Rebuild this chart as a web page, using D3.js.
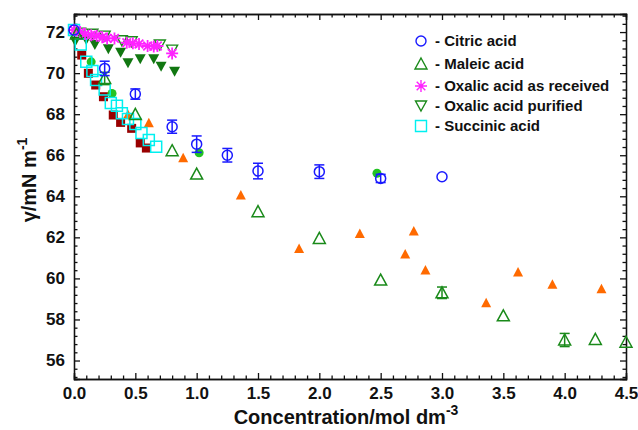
<!DOCTYPE html>
<html>
<head>
<meta charset="utf-8">
<script src="https://cdn.jsdelivr.net/npm/d3@7"></script>
<style>
  body { margin: 0; background: #fff; }
  svg { font-family: "Liberation Sans", Arial, sans-serif; }
  .axis text { font-size: 17px; font-weight: bold; fill: #111; }
  .axis path, .axis line { stroke: #111; stroke-width: 1.3; }
</style>
</head>
<body>
<svg id="chart"></svg>
<script>
// data
var citricX = [0, 0.25, 0.5, 0.8, 1.0, 1.25, 1.5, 2.0, 2.5, 3.0];
var citricY = [72.1, 70.23, 68.98, 67.39, 66.54, 66.0, 65.23, 65.2, 64.87, 64.95];
var citricErr = [0, 0.35, 0.25, 0.32, 0.4, 0.33, 0.38, 0.33, 0.2, 0];

var maleicX = [0.02, 0.25, 0.5, 0.8, 1.0, 1.5, 2.0, 2.5, 3.0, 3.5, 4.0, 4.25, 4.5];
var maleicY = [71.9, 69.74, 67.99, 66.22, 65.08, 63.25, 61.95, 59.92, 59.3, 58.18, 57.0, 57.03, 56.89];
var maleicErr = [0, 0.3, 0, 0, 0, 0, 0, 0, 0.28, 0, 0.32, 0, 0];

var oxRecX = [0.0, 0.05, 0.09, 0.14, 0.185, 0.23, 0.27, 0.33, 0.43, 0.48, 0.53, 0.6, 0.65, 0.68, 0.8];
var oxRecY = [72.1, 72.0, 71.9, 71.85, 71.82, 71.75, 71.69, 71.69, 71.48, 71.45, 71.42, 71.32, 71.3, 71.32, 70.96];

var oxPurX = [0.05, 0.15, 0.25, 0.39, 0.47, 0.7, 0.8];
var oxPurY = [71.95, 71.89, 71.8, 71.58, 71.53, 71.37, 71.12];

var oxFillX = [0.01, 0.1, 0.17, 0.28, 0.38, 0.44, 0.54, 0.65, 0.71, 0.82];
var oxFillY = [71.53, 71.61, 71.37, 71.16, 70.99, 70.48, 70.67, 70.67, 70.31, 70.07];

var succX = [0, 0.055, 0.1, 0.15, 0.18, 0.25, 0.3, 0.35, 0.39, 0.44, 0.5, 0.55, 0.61, 0.67];
var succY = [72.1, 71.4, 70.55, 70.1, 69.66, 69.2, 68.54, 68.41, 68.05, 67.76, 67.52, 67.08, 66.74, 66.41];

var redX = [0.063, 0.117, 0.177, 0.24, 0.32, 0.38, 0.47, 0.54, 0.59];
var redY = [70.88, 69.99, 69.42, 68.85, 67.96, 67.6, 67.31, 66.6, 66.35];

var dotX = [0.14, 0.31, 1.02, 2.47];
var dotY = [70.55, 69.01, 66.12, 65.12];

var orangeX = [0.44, 0.61, 0.89, 1.36, 1.835, 2.33, 2.7, 2.77, 2.865, 3.36, 3.62, 3.9, 4.3];
var orangeY = [67.99, 67.58, 65.88, 64.06, 61.46, 62.19, 61.19, 62.31, 60.41, 58.81, 60.31, 59.71, 59.5];

var xTicks = [0, 0.5, 1, 1.5, 2, 2.5, 3, 3.5, 4, 4.5];
var yTicks = [56, 58, 60, 62, 64, 66, 68, 70, 72];

var legendNames = ['- Citric acid', '- Maleic acid', '- Oxalic acid as received', '- Oxalic acid purified', '- Succinic acid'];

var svgWidth = 638;
var svgHeight = 430;
var plotLeft = 74, plotRight = 626, plotTop = 14, plotBottom = 379;

var svg = d3.select('#chart')
    .attr('width', svgWidth)
    .attr('height', svgHeight);

var xScale = d3.scaleLinear().domain([0, 4.5]).range([plotLeft, plotRight]);
var yScale = d3.scaleLinear().domain([55.1, 72.88]).range([plotBottom, plotTop]);

// minor tick positions
var xMinor = d3.range(0, 4.501, 0.1).filter(function (v) { return Math.abs(v * 2 - Math.round(v * 2)) > 0.01; });
var yMinor = d3.range(55.2, 72.85, 0.4).filter(function (v) { return Math.abs(v / 2 - Math.round(v / 2)) > 0.01; });

function addAxis(axis, tx, ty) {
    svg.append('g').attr('class', 'axis')
        .attr('transform', 'translate(' + tx + ',' + ty + ')')
        .call(axis);
}

addAxis(d3.axisBottom(xScale).tickValues(xTicks).tickFormat(d3.format('.1f')).tickSize(-6).tickPadding(8), 0, plotBottom);
addAxis(d3.axisBottom(xScale).tickValues(xMinor).tickFormat('').tickSize(-3.5), 0, plotBottom);
addAxis(d3.axisTop(xScale).tickValues(xTicks).tickFormat('').tickSize(-6), 0, plotTop);
addAxis(d3.axisTop(xScale).tickValues(xMinor).tickFormat('').tickSize(-3.5), 0, plotTop);
addAxis(d3.axisLeft(yScale).tickValues(yTicks).tickFormat(d3.format('d')).tickSize(-6).tickPadding(9), plotLeft, 0);
addAxis(d3.axisLeft(yScale).tickValues(yMinor).tickFormat('').tickSize(-3.5), plotLeft, 0);
addAxis(d3.axisRight(yScale).tickValues(yTicks).tickFormat('').tickSize(-6), plotRight, 0);
addAxis(d3.axisRight(yScale).tickValues(yMinor).tickFormat('').tickSize(-3.5), plotRight, 0);

svg.selectAll('.axis path').attr('stroke-width', 1.6);

// marker shapes
function shape(kind) {
    if (kind === 'circle') return 'M5,0A5,5 0 1,1 -5,0A5,5 0 1,1 5,0Z';
    if (kind === 'dot') return 'M4.5,0A4.5,4.5 0 1,1 -4.5,0A4.5,4.5 0 1,1 4.5,0Z';
    if (kind === 'tri') return 'M0,-6L6,5L-6,5Z';
    if (kind === 'tri2') return 'M0,-5L5,4.5L-5,4.5Z';
    if (kind === 'itri') return 'M0,5L5.5,-5L-5.5,-5Z';
    if (kind === 'square') return 'M-5.5,-5.5H5.5V5.5H-5.5Z';
    if (kind === 'rsquare') return 'M-4.5,-4.5H4.5V4.5H-4.5Z';
    if (kind === 'star') return 'M-6,0H6M0,-6V6M-4.3,-4.3L4.3,4.3M-4.3,4.3L4.3,-4.3';
}

function drawSeries(xs, ys, kind, fill, stroke, width) {
    svg.append('g').selectAll('path')
        .data(xs)
        .enter()
        .append('path')
        .attr('d', shape(kind))
        .attr('transform', function (d, i) {
            return 'translate(' + xScale(d) + ',' + yScale(ys[i]) + ')';
        })
        .attr('fill', fill)
        .attr('stroke', stroke)
        .attr('stroke-width', width);
}

function drawErrors(xs, ys, errs, color) {
    var g = svg.append('g').attr('stroke', color).attr('stroke-width', 1.5);
    xs.forEach(function (x, i) {
        if (!errs[i]) return;
        var cx = xScale(x);
        var y1 = yScale(ys[i] + errs[i]);
        var y2 = yScale(ys[i] - errs[i]);
        g.append('line').attr('x1', cx).attr('x2', cx).attr('y1', y1).attr('y2', y2);
        g.append('line').attr('x1', cx - 5).attr('x2', cx + 5).attr('y1', y1).attr('y2', y1);
        g.append('line').attr('x1', cx - 5).attr('x2', cx + 5).attr('y1', y2).attr('y2', y2);
    });
}

// filled series underneath
drawSeries(orangeX, orangeY, 'tri2', '#ff6a00', 'none', 0);
drawSeries(redX, redY, 'rsquare', '#990000', 'none', 0);
drawSeries(oxFillX, oxFillY, 'itri', '#117711', 'none', 0);
drawSeries(dotX, dotY, 'dot', '#22c322', 'none', 0);

// open series
drawSeries(succX, succY, 'square', 'none', '#00f0f0', 1.5);
drawSeries(oxPurX, oxPurY, 'itri', 'none', '#1a8a1a', 1.4);
drawSeries(oxRecX, oxRecY, 'star', 'none', '#ff22ff', 1.8);
drawErrors(maleicX, maleicY, maleicErr, '#1a8a1a');
drawSeries(maleicX, maleicY, 'tri', 'none', '#1a8a1a', 1.5);
drawErrors(citricX, citricY, citricErr, '#1a1aff');
drawSeries(citricX, citricY, 'circle', 'none', '#1a1aff', 1.5);

// legend
var legendKinds = ['circle', 'tri', 'star', 'itri', 'square'];
var legendColors = ['#1a1aff', '#1a8a1a', '#ff22ff', '#1a8a1a', '#00f0f0'];
var legendY = [41, 64, 86, 106, 126];

var legend = svg.append('g');
legend.selectAll('path')
    .data(legendNames)
    .enter()
    .append('path')
    .attr('d', function (d, i) { return shape(legendKinds[i]); })
    .attr('transform', function (d, i) { return 'translate(421,' + legendY[i] + ')'; })
    .attr('fill', 'none')
    .attr('stroke', function (d, i) { return legendColors[i]; })
    .attr('stroke-width', 1.4);

legend.selectAll('text')
    .data(legendNames)
    .enter()
    .append('text')
    .attr('x', 435)
    .attr('y', function (d, i) { return legendY[i] + 5; })
    .attr('font-size', '15px')
    .attr('font-weight', 'bold')
    .attr('fill', '#111')
    .text(function (d) { return d; });

// axis titles
var xt = svg.append('text')
    .attr('x', 346)
    .attr('y', 424)
    .attr('text-anchor', 'middle')
    .attr('font-size', '20px')
    .attr('font-weight', 'bold')
    .attr('fill', '#111');
xt.append('tspan').text('Concentration/mol dm');
xt.append('tspan').attr('dy', -9).attr('font-size', '14px').text('-3');

var yt = svg.append('text')
    .attr('transform', 'translate(36,180) rotate(-90)')
    .attr('text-anchor', 'middle')
    .attr('font-size', '20px')
    .attr('font-weight', 'bold')
    .attr('fill', '#111');
yt.append('tspan').text('γ/mN m');
yt.append('tspan').attr('dy', -9).attr('font-size', '14px').text('-1');
</script>
</body>
</html>
